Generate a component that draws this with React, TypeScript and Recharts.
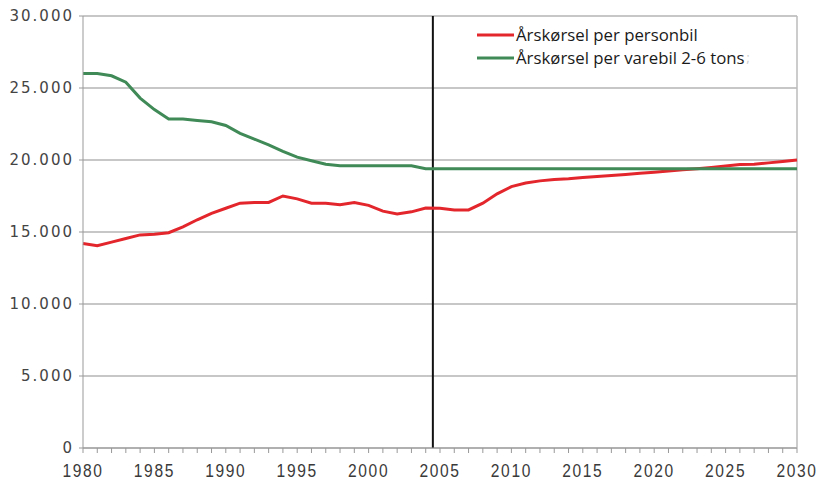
import React from 'react';
import { LineChart, Line, XAxis, YAxis, CartesianGrid, ReferenceLine, Legend } from 'recharts';

const years = [
  1980, 1981, 1982, 1983, 1984, 1985, 1986, 1987, 1988, 1989,
  1990, 1991, 1992, 1993, 1994, 1995, 1996, 1997, 1998, 1999,
  2000, 2001, 2002, 2003, 2004, 2005, 2006, 2007, 2008, 2009,
  2010, 2011, 2012, 2013, 2014, 2015, 2016, 2017, 2018, 2019,
  2020, 2021, 2022, 2023, 2024, 2025, 2026, 2027, 2028, 2029, 2030,
];

const personbil = [
  14200, 14050, 14300, 14550, 14800, 14850, 14950, 15350, 15850, 16300,
  16650, 17000, 17050, 17050, 17500, 17300, 17000, 17000, 16900, 17050,
  16850, 16450, 16250, 16400, 16670, 16650, 16530, 16530, 17000, 17650,
  18150, 18400, 18550, 18650, 18700, 18780, 18850, 18920, 19000, 19080,
  19150, 19230, 19320, 19400, 19480, 19580, 19680, 19700, 19800, 19900, 20000,
];

const varebil = [
  26000, 26000, 25850, 25400, 24300, 23500, 22850, 22850, 22750, 22650,
  22400, 21850, 21450, 21050, 20600, 20200, 19950, 19700, 19600, 19600,
  19600, 19600, 19600, 19600, 19400, 19400, 19400, 19400, 19400, 19400,
  19400, 19400, 19400, 19400, 19400, 19400, 19400, 19400, 19400, 19400,
  19400, 19400, 19400, 19400, 19400, 19400, 19400, 19400, 19400, 19400, 19400,
];

const seriesNames = ['Årskørsel per personbil', 'Årskørsel per varebil 2-6 tons'];
const yTicks = [0, 5000, 10000, 15000, 20000, 25000, 30000];
const splitYear = 2004.5;

const data = years.map((y, i) => ({ year: y, personbil: personbil[i], varebil: varebil[i] }));

const fmtY = (v: number) => String(v).replace(/\B(?=(\d{3})+(?!\d))/g, '.');

const XTick = (props: any) => {
  const { x, y, payload } = props;
  const v = payload && payload.value;
  if (v % 5 !== 0) return null;
  return (
    <text
      transform={`translate(${x} ${y}) scale(0.82 1)`}
      x={0}
      y={0}
      dy="0.71em"
      textAnchor="middle"
      fill="#3a3a3a"
      fontSize={19}
      fontFamily='"Liberation Sans", Arial, sans-serif'
      letterSpacing={2}
    >
      {String(v)}
    </text>
  );
};

const LegendContent = (props: any) => {
  const payload = props.payload || [];
  return (
    <div style={{ fontFamily: '"Open Sans", "Noto Sans", sans-serif', fontSize: 16.8, color: '#1a1a1a' }}>
      {payload.map((p: any, i: number) => (
        <div key={i} style={{ display: 'flex', alignItems: 'center', height: 23, whiteSpace: 'nowrap' }}>
          <svg width={39} height={10} style={{ display: 'block' }}>
            <line x1={0} x2={37} y1={5} y2={5} stroke={p.color} strokeWidth={3} />
          </svg>
          <span>{p.value}</span>
          {i === 1 ? <span style={{ color: '#c8c8c8', fontSize: 12, marginLeft: 2 }}>;</span> : null}
        </div>
      ))}
    </div>
  );
};

export default function App() {
  return (
    <div style={{ position: 'absolute', left: 0, top: 0, width: 819, height: 482, background: '#fff' }}>
      <LineChart width={819} height={482} data={data} margin={{ top: 16, right: 22, bottom: 0, left: 0 }}>
        <CartesianGrid vertical={false} stroke="#b4b4b4" strokeWidth={1.5} />
        <XAxis
          dataKey="year"
          type="number"
          domain={[1980, 2030]}
          ticks={years}
          interval={0}
          height={34}
          tickSize={5}
          tickMargin={11}
          axisLine={{ stroke: '#999' }}
          tickLine={{ stroke: '#999' }}
          tick={<XTick />}
        />
        <YAxis
          domain={[0, 30000]}
          ticks={yTicks}
          width={83}
          tickSize={4}
          tickMargin={5}
          tickFormatter={fmtY}
          axisLine={{ stroke: '#999' }}
          tickLine={{ stroke: '#999' }}
          tick={{ fill: '#444', fontSize: 15, fontFamily: '"DejaVu Sans", sans-serif', letterSpacing: 2 }}
        />
        <ReferenceLine x={2030} stroke="#bbb" strokeWidth={1.5} />
        <ReferenceLine x={splitYear} stroke="#111" strokeWidth={2} />
        <Line
          dataKey="personbil"
          name={seriesNames[0]}
          stroke="#e3262c"
          strokeWidth={3}
          dot={false}
          isAnimationActive={false}
        />
        <Line
          dataKey="varebil"
          name={seriesNames[1]}
          stroke="#3f8a57"
          strokeWidth={3}
          dot={false}
          isAnimationActive={false}
        />
        <Legend
          layout="vertical"
          align="center"
          verticalAlign="middle"
          content={LegendContent}
          wrapperStyle={{ position: 'absolute', top: 23, left: 477, width: 330 }}
        />
      </LineChart>
    </div>
  );
}
